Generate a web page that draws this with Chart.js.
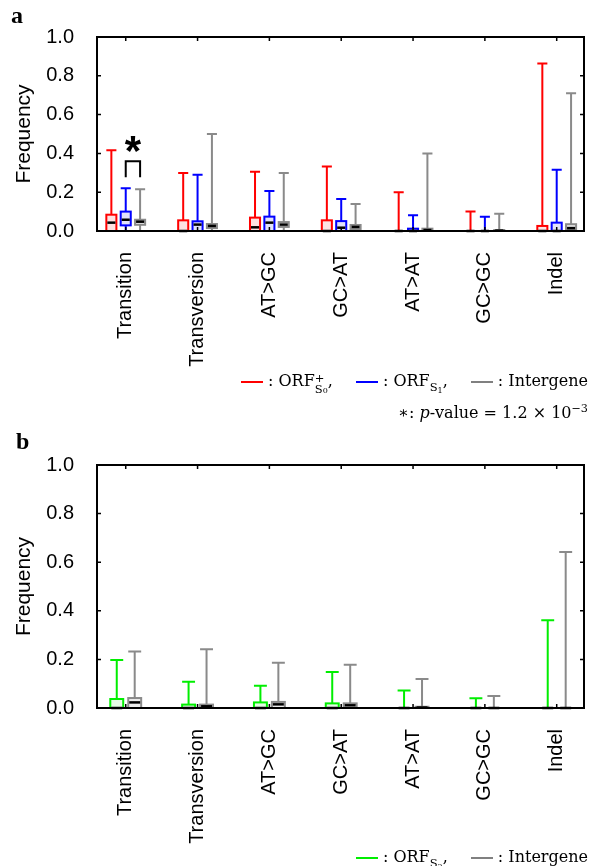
<!DOCTYPE html>
<html>
<head>
<meta charset="utf-8">
<script src="https://cdn.jsdelivr.net/npm/chart.js@4.4.0/dist/chart.umd.min.js"></script>
<style>
  body { margin: 0; background: #fff; }
  #page { position: relative; width: 595px; height: 866px; overflow: hidden; }
  canvas { position: absolute; left: 0; }
  .tag { position: absolute; font: bold 24px "Liberation Serif", serif; }
  .legend { position: absolute; right: 7px; font: 16px "DejaVu Serif", serif; white-space: nowrap; color: #000; }
  .key { display: inline-block; width: 22px; height: 0; border-top: 2px solid; vertical-align: middle; margin: 0 5px 0 18px; }
  .ss { display: inline-block; vertical-align: -0.62em; line-height: 0.95; font-size: 0.72em; text-align: left; }
  .ss span { display: block; }
  .sub { display: inline-block; vertical-align: -0.45em; font-size: 0.72em; line-height: 1; }
  .sub small { font-size: 0.7em; vertical-align: -0.25em; }
</style>
</head>
<body>
<div id="page">
  <canvas id="chartA" width="595" height="430" style="top:0"></canvas>
  <canvas id="chartB" width="595" height="436" style="top:430px"></canvas>
  <div class="tag" style="left:11px; top:2px">a</div>
  <div class="tag" style="left:16px; top:428px">b</div>
  <div class="legend" style="top:371px">
    <span class="key" style="border-color:#ff0000"></span>:&nbsp;ORF<span class="ss"><span>+</span><span>S<small style="font-size:0.7em">0</small></span></span>,
    <span class="key" style="border-color:#0000ff"></span>:&nbsp;ORF<span class="sub">S<small>1</small></span>,
    <span class="key" style="border-color:#808080"></span>:&nbsp;Intergene
  </div>
  <div class="legend" style="top:402px">&lowast;:&nbsp;<i>p</i>-value = 1.2 &times; 10<sup style="font-size:0.7em">&minus;3</sup></div>
  <div class="legend" style="top:847px">
    <span class="key" style="border-color:#00ee00"></span>:&nbsp;ORF<span class="sub">S<small>2</small></span>,
    <span class="key" style="border-color:#808080"></span>:&nbsp;Intergene
  </div>
</div>
<script>
const categories = ["Transition", "Transversion", "AT>GC", "GC>AT", "AT>AT", "GC>GC", "Indel"];
const yTicks = [0, 0.2, 0.4, 0.6, 0.8, 1.0];

// panel a
const orfS0Max    = [0.416, 0.299, 0.306, 0.333, 0.200, 0.100, 0.864];
const orfS0Q3     = [0.084, 0.055, 0.069, 0.055, 0.000, 0.000, 0.026];
const orfS0Median = [0.043, 0.000, 0.019, 0.000, 0.000, 0.000, 0.000];
const orfS0Q1     = [0.000, 0.000, 0.000, 0.000, 0.000, 0.000, 0.000];

const orfS1Max    = [0.220, 0.290, 0.206, 0.165, 0.081, 0.074, 0.316];
const orfS1Q3     = [0.100, 0.050, 0.074, 0.051, 0.012, 0.000, 0.043];
const orfS1Median = [0.058, 0.033, 0.043, 0.017, 0.000, 0.000, 0.000];
const orfS1Q1     = [0.029, 0.000, 0.000, 0.000, 0.000, 0.000, 0.000];

const interAMax    = [0.215, 0.500, 0.299, 0.139, 0.400, 0.089, 0.710];
const interAQ3     = [0.058, 0.036, 0.046, 0.031, 0.012, 0.005, 0.035];
const interAMedian = [0.048, 0.026, 0.033, 0.021, 0.005, 0.002, 0.015];
const interAQ1     = [0.032, 0.015, 0.021, 0.010, 0.000, 0.000, 0.005];

// panel b
const orfS2Max    = [0.198, 0.108, 0.092, 0.148, 0.072, 0.040, 0.361];
const orfS2Q3     = [0.037, 0.014, 0.023, 0.019, 0.000, 0.000, 0.000];
const orfS2Median = [0.000, 0.000, 0.000, 0.000, 0.000, 0.000, 0.000];
const orfS2Q1     = [0.000, 0.000, 0.000, 0.000, 0.000, 0.000, 0.000];

const interBMax    = [0.232, 0.242, 0.186, 0.178, 0.119, 0.049, 0.642];
const interBQ3     = [0.041, 0.014, 0.025, 0.019, 0.005, 0.000, 0.000];
const interBMedian = [0.023, 0.007, 0.015, 0.011, 0.002, 0.000, 0.000];
const interBQ1     = [0.000, 0.000, 0.000, 0.000, 0.000, 0.000, 0.000];

// significance mark (panel a, Transition, ORF_S1 vs Intergene)
const sigCategory = 0;
const sigTop = 0.36;
const sigLeg = 0.277;
const sigStar = 0.445;

const FONT = "Liberation Sans";
Chart.defaults.color = "#000";
Chart.defaults.font.family = FONT;

function series(offset, width, color, fill, max, q3, med, q1) {
  return {
    data: categories.map((c, i) => ({ x: i + offset, y: max[i] })),
    pointRadius: 0,
    showLine: false,
    stats: { max, q3, med, q1 },
    boxWidth: width,
    stroke: color,
    fillColor: fill
  };
}

const boxPlugin = {
  id: "boxes",
  afterDatasetsDraw(chart) {
    const { ctx, scales: { x, y } } = chart;
    ctx.save();
    chart.data.datasets.forEach(ds => {
      const s = ds.stats;
      ds.data.forEach((pt, i) => {
        const cx = x.getPixelForValue(pt.x);
        const left = x.getPixelForValue(pt.x - ds.boxWidth / 2);
        const right = x.getPixelForValue(pt.x + ds.boxWidth / 2);
        const y0 = y.getPixelForValue(0);
        const yMax = y.getPixelForValue(s.max[i]);
        const yQ3 = y.getPixelForValue(s.q3[i]);
        const yQ1 = y.getPixelForValue(s.q1[i]);
        const yMed = y.getPixelForValue(s.med[i]);
        ctx.strokeStyle = ds.stroke;
        ctx.lineWidth = 2;
        ctx.beginPath();
        ctx.moveTo(cx, y0);
        ctx.lineTo(cx, yMax);
        ctx.moveTo(left, yMax);
        ctx.lineTo(right, yMax);
        ctx.stroke();
        ctx.fillStyle = ds.fillColor;
        ctx.fillRect(left, yQ3, right - left, yQ1 - yQ3);
        ctx.strokeRect(left, yQ3, right - left, yQ1 - yQ3);
        ctx.strokeStyle = "#000";
        ctx.lineWidth = 2.5;
        ctx.beginPath();
        ctx.moveTo(left + 1, yMed);
        ctx.lineTo(right - 1, yMed);
        ctx.stroke();
      });
    });
    ctx.restore();
  }
};

const framePlugin = {
  id: "frame",
  afterDraw(chart) {
    const { ctx, chartArea: a, scales: { x, y } } = chart;
    ctx.save();
    ctx.strokeStyle = "#000";
    ctx.lineWidth = 2;
    ctx.strokeRect(a.left, a.top, a.right - a.left, a.bottom - a.top);
    ctx.lineWidth = 1.5;
    ctx.beginPath();
    x.ticks.forEach(t => {
      const px = x.getPixelForValue(t.value);
      ctx.moveTo(px, a.top); ctx.lineTo(px, a.top + 4);
      ctx.moveTo(px, a.bottom); ctx.lineTo(px, a.bottom - 4);
    });
    y.ticks.forEach(t => {
      const py = y.getPixelForValue(t.value);
      ctx.moveTo(a.left, py); ctx.lineTo(a.left + 4, py);
      ctx.moveTo(a.right, py); ctx.lineTo(a.right - 4, py);
    });
    ctx.stroke();
    ctx.restore();
  }
};

const sigPlugin = {
  id: "sig",
  afterDraw(chart) {
    if (!chart.options.plugins.sig || !chart.options.plugins.sig.show) return;
    const { ctx, scales: { x, y } } = chart;
    const x1 = x.getPixelForValue(sigCategory);
    const x2 = x.getPixelForValue(sigCategory + 0.2);
    const yt = y.getPixelForValue(sigTop);
    const yl = y.getPixelForValue(sigLeg);
    ctx.save();
    ctx.strokeStyle = "#000";
    ctx.lineWidth = 2;
    ctx.beginPath();
    ctx.moveTo(x1, yl); ctx.lineTo(x1, yt); ctx.lineTo(x2, yt); ctx.lineTo(x2, yl);
    ctx.stroke();
    ctx.fillStyle = "#000";
    ctx.font = "bold 42px " + FONT;
    ctx.textAlign = "center";
    ctx.textBaseline = "middle";
    ctx.fillText("*", (x1 + x2) / 2, y.getPixelForValue(sigStar) + 9);
    ctx.restore();
  }
};

function makePanel(id, datasets, padTop, xHeight, showSig) {
  return new Chart(document.getElementById(id), {
    type: "scatter",
    data: { datasets },
    plugins: [boxPlugin, framePlugin, sigPlugin],
    options: {
      responsive: false,
      animation: false,
      events: [],
      layout: { padding: { left: 0, top: padTop, right: 11, bottom: 0 } },
      plugins: { legend: { display: false }, tooltip: { enabled: false }, sig: { show: showSig } },
      scales: {
        x: {
          type: "linear",
          min: -0.4,
          max: 6.38,
          afterBuildTicks: s => { s.ticks = categories.map((c, i) => ({ value: i })); },
          afterFit: s => { s.height = xHeight; },
          grid: { display: false },
          border: { display: false },
          ticks: {
            autoSkip: false,
            minRotation: 90,
            maxRotation: 90,
            padding: 13,
            font: { size: 20 },
            callback: v => categories[v]
          }
        },
        y: {
          min: 0,
          max: 1,
          afterBuildTicks: s => { s.ticks = yTicks.map(v => ({ value: v })); },
          afterFit: s => { s.width = 97; },
          grid: { display: false },
          border: { display: false },
          ticks: { padding: 15, font: { size: 20 }, callback: v => v.toFixed(1) },
          title: { display: true, text: "Frequency", font: { size: 21 }, padding: { top: 12 } }
        }
      }
    }
  });
}

makePanel("chartA", [
  series(-0.2, 0.14, "#ff0000", "#fde2e2", orfS0Max, orfS0Q3, orfS0Median, orfS0Q1),
  series(0, 0.14, "#0000ff", "#e2e2fa", orfS1Max, orfS1Q3, orfS1Median, orfS1Q1),
  series(0.2, 0.14, "#8a8a8a", "#eeeeee", interAMax, interAQ3, interAMedian, interAQ1)
], 37, 199, true);

makePanel("chartB", [
  series(-0.125, 0.18, "#00ee00", "#e6fbe6", orfS2Max, orfS2Q3, orfS2Median, orfS2Q1),
  series(0.125, 0.18, "#8a8a8a", "#eeeeee", interBMax, interBQ3, interBMedian, interBQ1)
], 35, 158, false);
</script>
</body>
</html>
